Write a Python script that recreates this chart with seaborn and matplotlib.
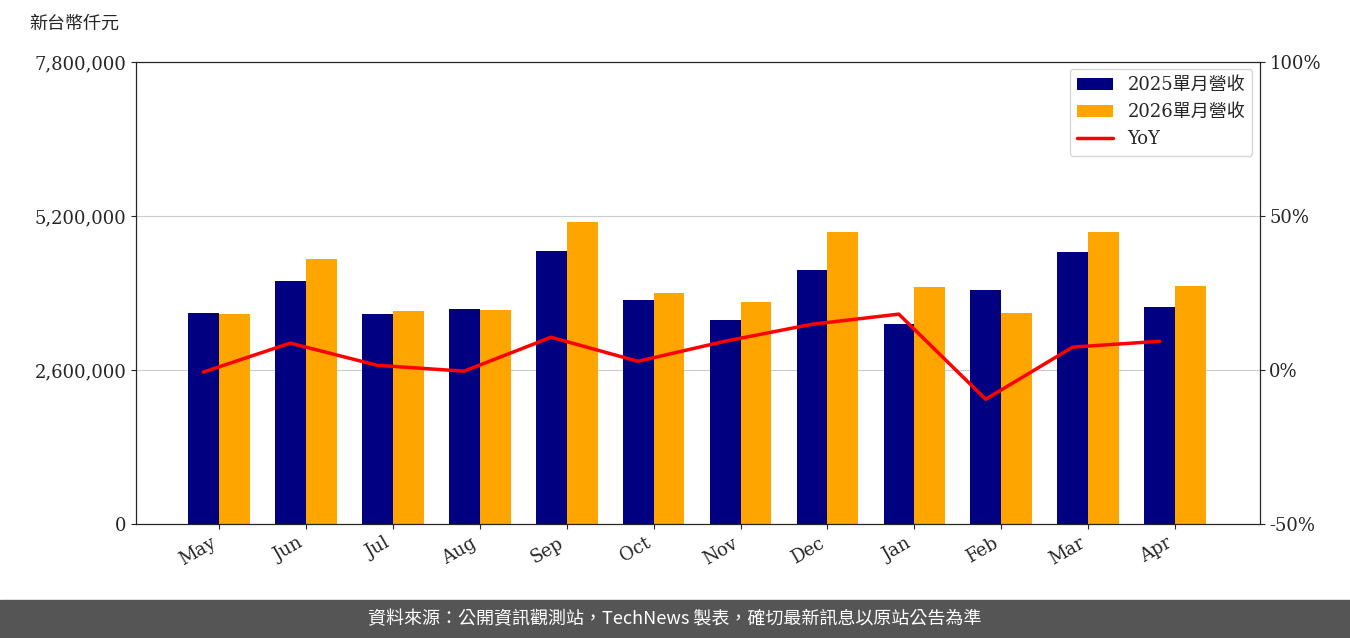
import matplotlib
matplotlib.use("Agg")
import matplotlib.pyplot as plt
import seaborn as sns
import numpy as np
import pandas as pd
from matplotlib.ticker import FuncFormatter

months = ["May","Jun","Jul","Aug","Sep","Oct","Nov","Dec","Jan","Feb","Mar","Apr"]
rev2025 = [3.56e6,4.10e6,3.55e6,3.63e6,4.61e6,3.78e6,3.44e6,4.29e6,3.38e6,3.95e6,4.59e6,3.66e6]
rev2026 = [3.55e6,4.47e6,3.60e6,3.61e6,5.10e6,3.90e6,3.75e6,4.93e6,4.00e6,3.56e6,4.93e6,4.02e6]
yoy = [-0.6,8.8,1.6,-0.3,10.7,2.9,9.4,14.9,18.2,-9.4,7.5,9.4]

sns.set_style("white")
plt.rcParams['font.family'] = ['DejaVu Serif', 'Noto Sans CJK TC']

df = pd.DataFrame({"month": months*2,
                   "rev": rev2025+rev2026,
                   "series": ["2025單月營收"]*12+["2026單月營收"]*12})

fig = plt.figure(figsize=(13.5,6.38), dpi=100)
ax = fig.add_axes([0.101, 0.178, 0.832, 0.725])
sns.barplot(data=df, x="month", y="rev", hue="series", palette=["#000080","#FFA500"],
            width=0.71, ax=ax, saturation=1, linewidth=0, edgecolor="none")
ax.set_ylim(0,7.8e6)
ax.set_yticks([0,2.6e6,5.2e6,7.8e6])
ax.yaxis.set_major_formatter(FuncFormatter(lambda v,p: f"{int(v):,}"))
ax.yaxis.grid(True, color="#cccccc")
ax.set_axisbelow(True)
ax.set_xlabel(""); ax.set_ylabel("")
ax.set_xlim(-0.95, 11.97)
for lbl in ax.get_xticklabels():
    lbl.set_rotation(30); lbl.set_ha("right")
ax.tick_params(labelsize=13, left=True, bottom=True)
for s in ax.spines.values(): s.set_color("black")

ax2 = ax.twinx()
ax2.plot(np.arange(12) - 0.18, yoy, color="red", lw=2.5, label="YoY")
ax2.set_ylim(-50,100)
ax2.set_yticks([-50,0,50,100])
ax2.yaxis.set_major_formatter(FuncFormatter(lambda v,p: f"{int(v)}%"))
ax2.tick_params(labelsize=13, right=True)

h1,l1 = ax.get_legend_handles_labels()
h2,l2 = ax2.get_legend_handles_labels()
ax.get_legend().remove()
ax2.legend(h1+h2, l1+l2, loc="upper right", borderaxespad=0.4,
           prop={'family':['DejaVu Serif','Noto Sans CJK TC'],'size':13})

fig.text(0.022, 0.955, "新台幣仟元", fontsize=13, family=['Noto Sans CJK TC'])
fig.patches.append(plt.Rectangle((0,0),1,0.06, transform=fig.transFigure, color="#555555", zorder=0))
fig.text(0.5, 0.03, "資料來源：公開資訊觀測站，TechNews 製表，確切最新訊息以原站公告為準",
         ha="center", va="center", color="white", fontsize=13, family=['Noto Sans CJK TC'])
fig.savefig("out.png")
